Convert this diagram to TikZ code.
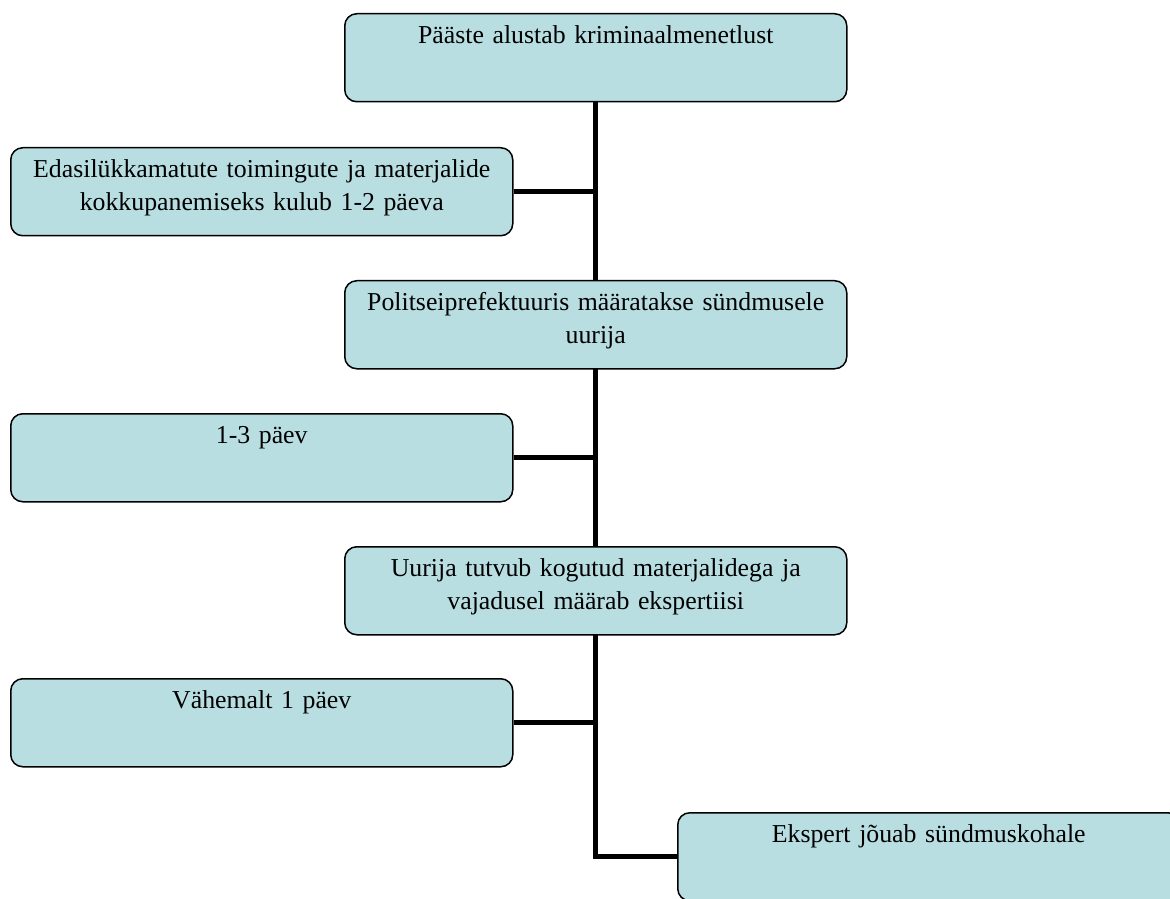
\documentclass[tikz,border=0pt]{standalone}
\usepackage{fontspec}
\setmainfont{Liberation Serif}
\usetikzlibrary{backgrounds}
\definecolor{stagefill}{RGB}{184,222,226}
\tikzset{
  link/.style={line width=2.5pt, draw=black},
  stagebox/.style={
    draw=black,
    line width=0.75pt,
    fill=stagefill,
    rounded corners=6pt,
    anchor=north west,
    align=center,
    inner xsep=4pt,
    inner ysep=0pt,
    text width=243pt,
    text height=15pt,
    text depth=29pt,
    font=\fontsize{12.9}{16.5}\selectfont
  }
}

\begin{document}
\begin{tikzpicture}[x=0.5pt,y=-0.5pt]
  \clip (0,0) rectangle (1170,898);
  \coordinate (trunk) at (595,0);

  \node[stagebox] (start) at (344,13) {P\"a\"aste alustab kriminaalmenetlust};
  \node[stagebox] (urgent) at (10,147) {Edasil\"ukkamatute toimingute ja materjalide\\kokkupanemiseks kulub 1-2 p\"aeva};
  \node[stagebox] (assign) at (344,280) {Politseiprefektuuris m\"a\"aratakse s\"undmusele\\uurija};
  \node[stagebox] (days) at (10,413) {1-3 p\"aev};
  \node[stagebox] (review) at (344,546) {Uurija tutvub kogutud materjalidega ja\\vajadusel m\"a\"arab ekspertiisi};
  \node[stagebox] (minday) at (10,678) {V\"ahemalt 1 p\"aev};
  \node[stagebox] (expert) at (677,812) {Ekspert j\~ouab s\"undmuskohale};

  \begin{scope}[on background layer]
    \draw[link] (start.south -| trunk) |- (expert.west);
    \foreach \n in {urgent,days,minday}
      \draw[link] (\n.east) -- (\n.east -| trunk);
  \end{scope}
\end{tikzpicture}
\end{document}
